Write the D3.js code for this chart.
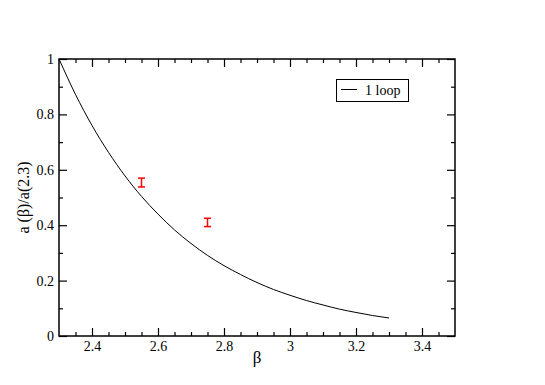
<!DOCTYPE html>
<html>
<head>
<meta charset="utf-8">
<script src="https://cdn.jsdelivr.net/npm/d3@7"></script>
<style>
  body { margin: 0; background: #fff; }
  svg text { font-family: "Liberation Serif", "Times New Roman", Times, "DejaVu Serif", serif; }
</style>
</head>
<body>
<div id="chart"></div>
<script>
// 1-loop curve
var loopBeta = [2.30, 2.35, 2.40, 2.45, 2.50, 2.55, 2.60, 2.65, 2.70, 2.75, 2.80,
                2.85, 2.90, 2.95, 3.00, 3.05, 3.10, 3.15, 3.20, 3.25, 3.30];
var loopRatio = [1.000, 0.872, 0.760, 0.663, 0.578, 0.504, 0.440, 0.383, 0.334, 0.291, 0.254,
                 0.222, 0.193, 0.168, 0.147, 0.128, 0.112, 0.097, 0.085, 0.074, 0.065];

// measured points with error bars
var ptBeta = [2.55, 2.75];
var ptRatio = [0.554, 0.410];
var ptErr = [0.016, 0.015];

var xTicks = [2.4, 2.6, 2.8, 3, 3.2, 3.4];
var xTickLabels = ["2.4", "2.6", "2.8", "3", "3.2", "3.4"];
var yTicks = [0, 0.2, 0.4, 0.6, 0.8, 1];
var yTickLabels = ["0", "0.2", "0.4", "0.6", "0.8", "1"];

var fontFam = "'Liberation Serif', 'Times New Roman', Times, 'DejaVu Serif', serif";

var W = 545, H = 385,
    margin = {top: 59, right: 90, bottom: 49, left: 59},
    width = W - margin.left - margin.right,
    height = H - margin.top - margin.bottom;

var svg = d3.select("#chart").append("svg")
  .attr("width", W)
  .attr("height", H)
  .attr("font-family", fontFam);

var g = svg.append("g")
  .attr("transform", "translate(" + margin.left + "," + margin.top + ")");

var x = d3.scaleLinear().domain([2.3, 3.5]).range([0, width]);
var y = d3.scaleLinear().domain([0, 1]).range([height, 0]);

var xMinor = d3.range(2.35, 3.5, 0.05).filter(function (v) {
  return Math.abs(Math.round(v * 5) - v * 5) > 1e-6;
});
var yMinor = [0.1, 0.3, 0.5, 0.7, 0.9];

function styleAxis(sel) {
  sel.attr("font-family", fontFam).attr("font-size", 14);
  sel.select(".domain").remove();
  sel.selectAll("line").attr("stroke", "#000").attr("stroke-width", 1.2);
  sel.selectAll("text").attr("fill", "#000");
}

// bottom
g.append("g").attr("transform", "translate(0," + height + ")")
  .call(d3.axisBottom(x).tickValues(xTicks).tickSize(-8).tickPadding(5)
    .tickFormat(function (d, i) { return xTickLabels[i]; }))
  .call(styleAxis);
g.append("g").attr("transform", "translate(0," + height + ")")
  .call(d3.axisBottom(x).tickValues(xMinor).tickSize(-4).tickFormat(""))
  .call(styleAxis);
// top
g.append("g")
  .call(d3.axisTop(x).tickValues(xTicks).tickSize(-8).tickFormat(""))
  .call(styleAxis);
g.append("g")
  .call(d3.axisTop(x).tickValues(xMinor).tickSize(-4).tickFormat(""))
  .call(styleAxis);
// left
g.append("g")
  .call(d3.axisLeft(y).tickValues(yTicks).tickSize(-8).tickPadding(5)
    .tickFormat(function (d, i) { return yTickLabels[i]; }))
  .call(styleAxis);
g.append("g")
  .call(d3.axisLeft(y).tickValues(yMinor).tickSize(-4).tickFormat(""))
  .call(styleAxis);
// right
g.append("g").attr("transform", "translate(" + width + ",0)")
  .call(d3.axisRight(y).tickValues(yTicks).tickSize(-8).tickFormat(""))
  .call(styleAxis);
g.append("g").attr("transform", "translate(" + width + ",0)")
  .call(d3.axisRight(y).tickValues(yMinor).tickSize(-4).tickFormat(""))
  .call(styleAxis);

// frame
g.append("rect")
  .attr("x", 0).attr("y", 0)
  .attr("width", width).attr("height", height)
  .attr("fill", "none")
  .attr("stroke", "#000")
  .attr("stroke-width", 1.5);

// 1-loop line
var line = d3.line()
  .x(function (d) { return x(d[0]); })
  .y(function (d) { return y(d[1]); })
  .curve(d3.curveMonotoneX);

g.append("path")
  .datum(d3.zip(loopBeta, loopRatio))
  .attr("d", line)
  .attr("fill", "none")
  .attr("stroke", "#000")
  .attr("stroke-width", 1);

// error bars
var pts = d3.zip(ptBeta, ptRatio, ptErr);
var eb = g.selectAll("g.err")
  .data(pts)
  .enter().append("g")
    .attr("class", "err")
    .attr("stroke", "#ff0000")
    .attr("stroke-width", 1.5);

eb.append("line")
  .attr("x1", function (d) { return x(d[0]); })
  .attr("x2", function (d) { return x(d[0]); })
  .attr("y1", function (d) { return y(d[1] + d[2]); })
  .attr("y2", function (d) { return y(d[1] - d[2]); });
eb.append("line")
  .attr("x1", function (d) { return x(d[0]) - 3.5; })
  .attr("x2", function (d) { return x(d[0]) + 3.5; })
  .attr("y1", function (d) { return y(d[1] + d[2]); })
  .attr("y2", function (d) { return y(d[1] + d[2]); });
eb.append("line")
  .attr("x1", function (d) { return x(d[0]) - 3.5; })
  .attr("x2", function (d) { return x(d[0]) + 3.5; })
  .attr("y1", function (d) { return y(d[1] - d[2]); })
  .attr("y2", function (d) { return y(d[1] - d[2]); });

// legend
svg.append("rect")
  .attr("x", 336.5).attr("y", 79.5)
  .attr("width", 72).attr("height", 22)
  .attr("fill", "#fff")
  .attr("stroke", "#000")
  .attr("stroke-width", 1);
svg.append("line")
  .attr("x1", 341).attr("x2", 357)
  .attr("y1", 89.5).attr("y2", 89.5)
  .attr("stroke", "#000").attr("stroke-width", 1);
svg.append("text")
  .attr("x", 365).attr("y", 95)
  .attr("font-size", 14)
  .text("1 loop");

// axis labels
svg.append("text")
  .attr("x", margin.left + width / 2)
  .attr("y", 363)
  .attr("text-anchor", "middle")
  .attr("font-size", 17)
  .text("β");

svg.append("text")
  .attr("transform", "translate(29," + (margin.top + height / 2) + ") rotate(-90)")
  .attr("text-anchor", "middle")
  .attr("font-size", 16)
  .text("a (β)/a(2.3)");
</script>
</body>
</html>
